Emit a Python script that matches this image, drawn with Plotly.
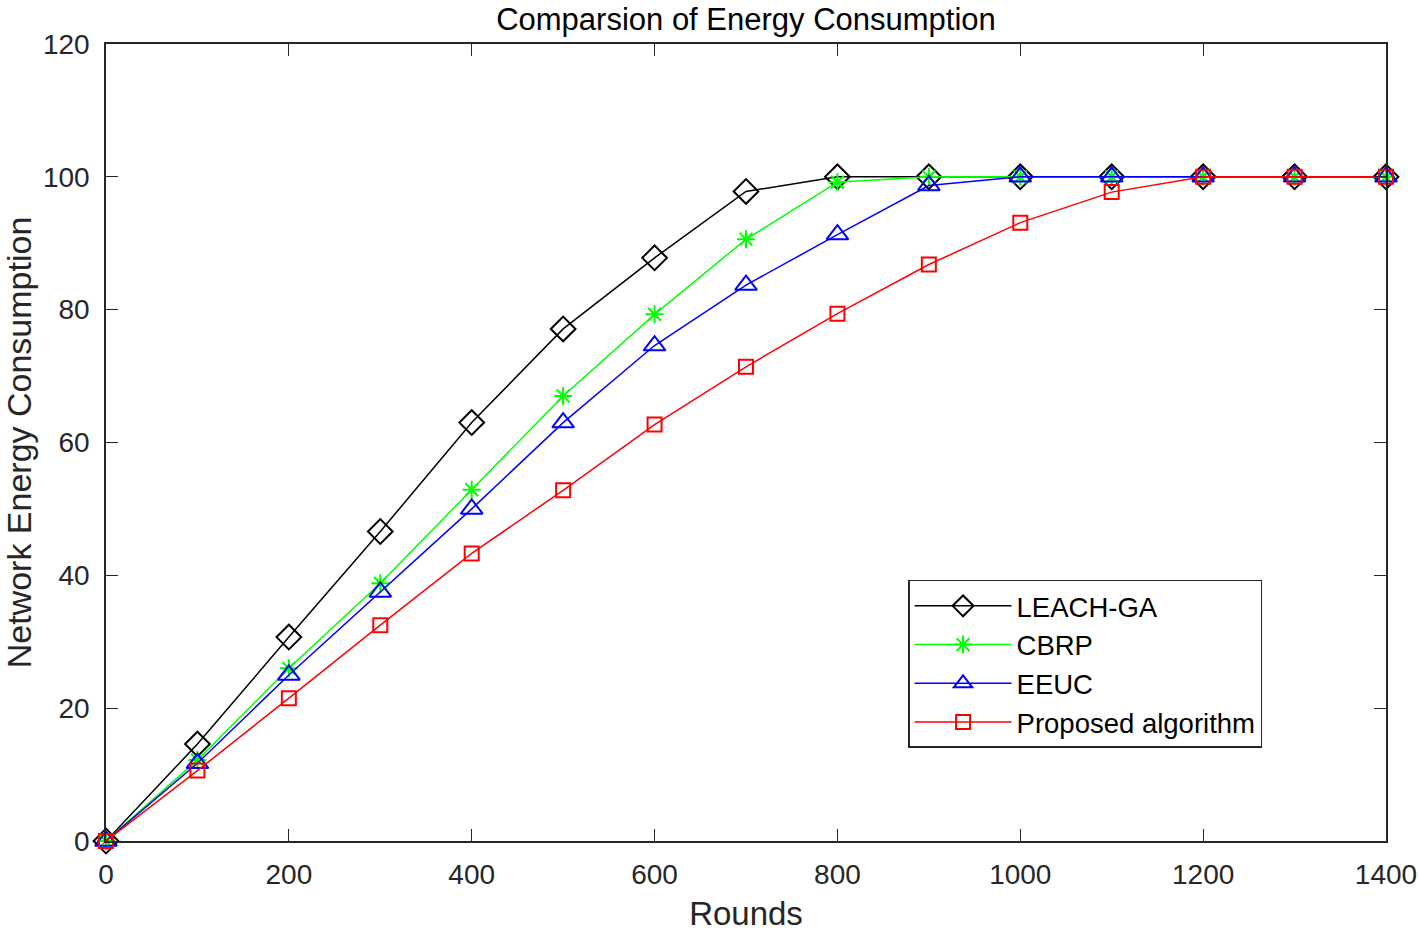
import plotly.graph_objects as go

rounds = [0, 100, 200, 300, 400, 500, 600, 700, 800, 900, 1000, 1100, 1200, 1300, 1400]
leach_ga = [0, 14.6, 30.7, 46.6, 63.0, 77.1, 87.8, 97.8, 100, 100, 100, 100, 100, 100, 100]
cbrp = [0, 12.2, 26.0, 38.8, 52.9, 67.0, 79.3, 90.6, 99.2, 100, 100, 100, 100, 100, 100]
eeuc = [0, 11.7, 25.0, 37.5, 50.0, 63.0, 74.6, 83.7, 91.3, 98.7, 100, 100, 100, 100, 100]
proposed = [0, 10.6, 21.5, 32.5, 43.3, 52.8, 62.7, 71.4, 79.4, 86.8, 93.1, 97.7, 100, 100, 100]

x_ticks = [0, 200, 400, 600, 800, 1000, 1200, 1400]
y_ticks = [0, 20, 40, 60, 80, 100, 120]

FONT = "Liberation Sans, Arial, sans-serif"
TXT = "#262626"

fig = go.Figure()
series = [
    ("LEACH-GA", leach_ga, "black", "diamond-open", 19),
    ("CBRP", cbrp, "#00ff00", "asterisk-open", 15),
    ("EEUC", eeuc, "blue", "triangle-up-open", 19),
    ("Proposed algorithm", proposed, "red", "square-open", 14),
]
for name, ys, col, sym, sz in series:
    fig.add_trace(go.Scatter(
        x=rounds, y=ys, name=name, mode="lines+markers", legendgroup=name,
        line=dict(color=col, width=1.5),
        marker=dict(symbol=sym, size=sz, color=col, line=dict(color=col, width=2)),
        cliponaxis=False,
    ))

axis_common = dict(
    showline=True, linecolor=TXT, linewidth=1.5, mirror="ticks",
    ticks="inside", ticklen=12, tickwidth=1, tickcolor=TXT,
    showgrid=False, zeroline=False, automargin=False,
    tickfont=dict(family=FONT, size=28, color=TXT),
)

fig.update_layout(
    width=1419, height=932,
    margin=dict(l=106, r=33, t=44, b=91),
    paper_bgcolor="white", plot_bgcolor="white",
    title=dict(text="Comparsion of Energy Consumption", xref="paper", x=0.5, xanchor="center",
               yref="container", y=0.9796, yanchor="middle",
               font=dict(family=FONT, size=31, color="black")),
    xaxis=dict(range=[0, 1400], tickvals=x_ticks, ticklabelstandoff=8,
               title=dict(text="Rounds", font=dict(family=FONT, size=33, color=TXT), standoff=25),
               **axis_common),
    yaxis=dict(range=[0, 120], tickvals=y_ticks, ticklabelstandoff=9,
               title=dict(text="Network Energy Consumption", font=dict(family=FONT, size=34, color=TXT), standoff=14),
               **axis_common),
    legend=dict(x=0.6266, y=0.3275, xanchor="left", yanchor="top",
                bgcolor="white", bordercolor=TXT, borderwidth=1.5,
                font=dict(family=FONT, size=27.5, color="black"),
                itemwidth=97, tracegroupgap=0),
    showlegend=True,
)

fig.write_html("out.html", config={"displayModeBar": False},
               post_script="document.body.style.margin='0';document.body.style.overflow='hidden';")
